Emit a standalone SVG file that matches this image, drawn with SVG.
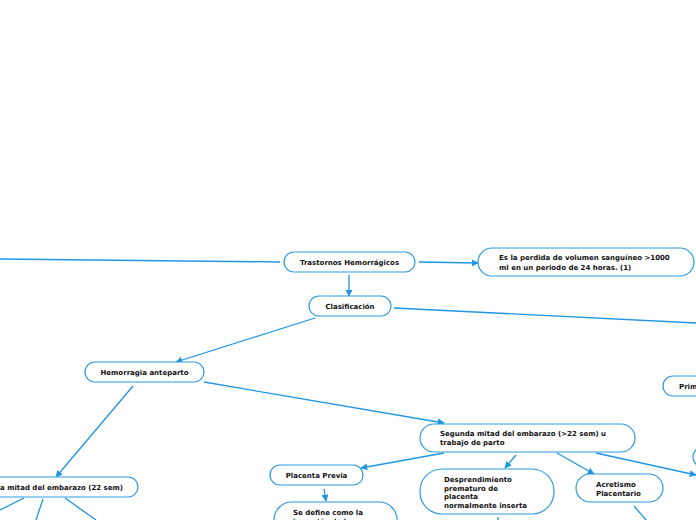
<svg xmlns="http://www.w3.org/2000/svg" width="696" height="520" viewBox="0 0 696 520">
<defs>
<style>
.n{fill:#fff;stroke:#2b9be0;stroke-width:1.2}
.t{font-family:"DejaVu Sans",Verdana,sans-serif;font-weight:bold;font-size:7px;fill:#111}
.c{text-anchor:middle}
.e{fill:none;stroke:#1e96e4;stroke-width:1.3}
</style>
<marker id="a" viewBox="0 0 10 10" refX="9" refY="5" markerWidth="5" markerHeight="5" orient="auto" markerUnits="userSpaceOnUse">
<path d="M0,0L10,5L0,10z" fill="#1e96e4"/>
</marker>
<marker id="ah" viewBox="0 0 10 10" refX="9" refY="5" markerWidth="7" markerHeight="7" orient="auto" markerUnits="userSpaceOnUse">
<path d="M0,0L10,5L0,10z" fill="#1e96e4"/>
</marker>
</defs>
<rect width="696" height="520" fill="#fff"/>
<g id="connectors">
<path class="e" d="M0,259L280,262"/>
<path class="e" d="M419,262L478,263" marker-end="url(#ah)"/>
<path class="e" d="M349,275L349,296" marker-end="url(#ah)"/>
<path class="e" d="M394,308L696,323"/>
<path class="e" d="M315,318L176,362" marker-end="url(#ah)"/>
<path class="e" d="M204,382L444,423" marker-end="url(#ah)"/>
<path class="e" d="M133,386L56,477" marker-end="url(#ah)"/>
<path class="e" d="M444,453L361,468" marker-end="url(#ah)"/>
<path class="e" d="M516,455L505,468" marker-end="url(#ah)"/>
<path class="e" d="M557,453L594,474" marker-end="url(#ah)"/>
<path class="e" d="M596,453L696,475" marker-end="url(#ah)"/>
<path class="e" d="M324,489L326,501" marker-end="url(#ah)"/>
<path class="e" d="M498,517L498,520"/>
<path class="e" d="M634,506L646,520"/>
<path class="e" d="M24,498L0,510"/>
<path class="e" d="M43,499L36,520"/>
<path class="e" d="M65,498L96,520"/>
</g>
<g id="n1"><rect class="n" x="284" y="252" width="131" height="20" rx="10"/><text class="t c" x="349.5" y="264.5">Trastornos Hemorrágicos</text></g>
<g id="n2"><rect class="n" x="478" y="248" width="216" height="28" rx="14"/><text class="t" x="499" y="260">Es la perdida de volumen sanguíneo &gt;1000</text><text class="t" x="499" y="269.5">ml en un periodo de 24 horas. (1)</text></g>
<g id="n3"><rect class="n" x="309" y="296" width="82" height="20" rx="10"/><text class="t c" x="350" y="308.5">Clasificación</text></g>
<g id="n4"><rect class="n" x="85" y="362" width="119" height="20" rx="10"/><text class="t c" x="144.5" y="374.5">Hemorragia anteparto</text></g>
<g id="n5"><rect class="n" x="420" y="424" width="215" height="28" rx="14"/><text class="t" x="440" y="435.5">Segunda mitad del embarazo (&gt;22 sem) u</text><text class="t" x="440" y="445">trabajo de parto</text></g>
<g id="n6"><rect class="n" x="-70" y="477" width="208" height="20" rx="10"/><text class="t" x="0" y="489.5">a mitad del embarazo (22 sem)</text></g>
<g id="n7"><rect class="n" x="663" y="376" width="120" height="20" rx="10"/><text class="t" x="679" y="388.5">Prim</text></g>
<g id="n8"><rect class="n" x="270" y="465" width="93" height="20" rx="10"/><text class="t c" x="316.5" y="477.5">Placenta Previa</text></g>
<g id="n9"><rect class="n" x="274" y="502" width="123" height="60" rx="18"/><text class="t" x="293" y="515">Se define como la</text><text class="t" x="293" y="524">inserción de la</text></g>
<g id="n10"><rect class="n" x="420" y="469" width="134" height="45" rx="22"/><text class="t" x="444" y="482">Desprendimiento</text><text class="t" x="444" y="490.5">prematuro de</text><text class="t" x="444" y="499">placenta</text><text class="t" x="444" y="507.5">normalmente inserta</text></g>
<g id="n11"><rect class="n" x="576" y="474" width="87" height="28" rx="14"/><text class="t" x="596" y="486.5">Acretismo</text><text class="t" x="596" y="495.5">Placentario</text></g>
<g id="n12"><rect class="n" x="693" y="447" width="60" height="20" rx="10"/></g>
</svg>
